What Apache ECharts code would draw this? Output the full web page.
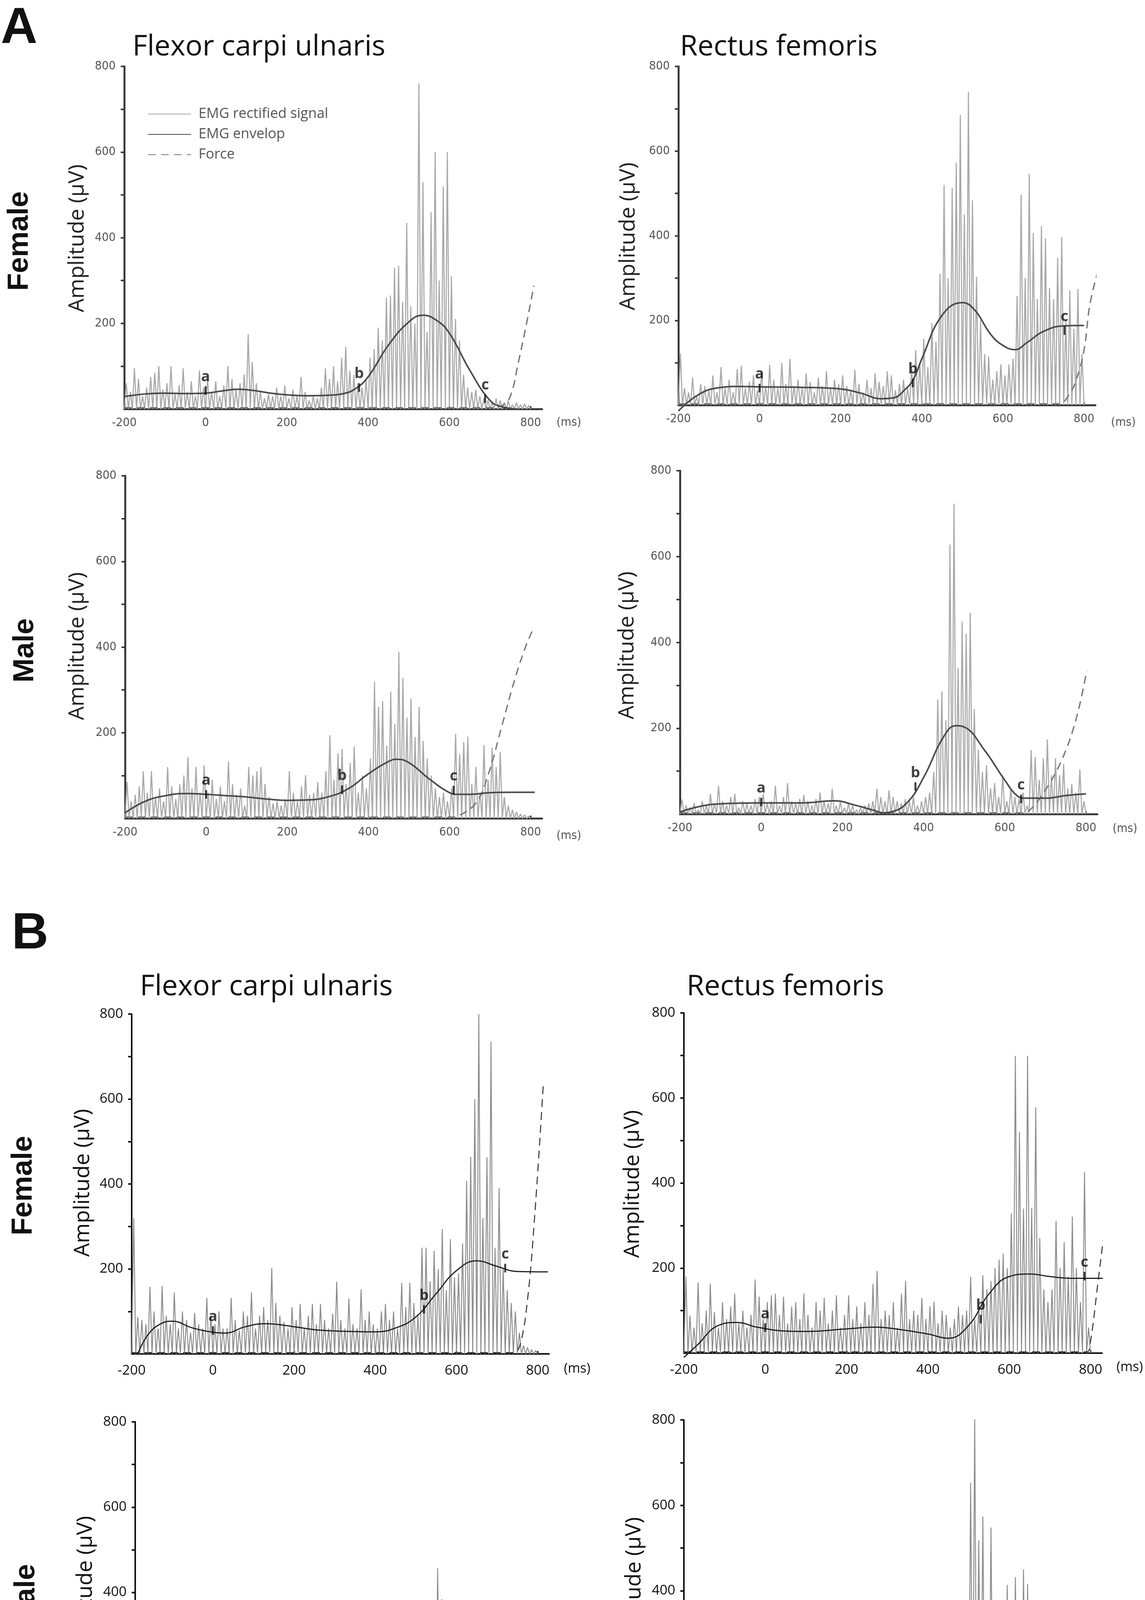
<!DOCTYPE html>
<html>
<head>
<meta charset="utf-8">
<script src="https://cdn.jsdelivr.net/npm/echarts@6.0.0/dist/echarts.min.js"></script>
<style>
  html, body { margin: 0; padding: 0; background: #fff; }
  #chart { width: 2930px; height: 4582px; }
</style>
</head>
<body>
<div id="chart"></div>
<script>
// rectified EMG: one peak every 10 ms, first peak at -195 ms
var T0 = -200, STEP = 10;

var aFcuFemalePeaks = [
  60, 40, 95, 70, 30, 50, 75, 85, 100, 45,
  60, 100, 35, 55, 95, 40, 65, 30, 90, 50,
  70, 40, 65, 30, 55, 100, 70, 45, 60, 80,
  175, 110, 60, 40, 25, 35, 30, 50, 30, 55,
  25, 45, 30, 75, 40, 20, 30, 25, 50, 95,
  70, 100, 65, 120, 145, 90, 80, 60, 50, 70,
  120, 140, 190, 160, 260, 265, 330, 335, 250, 435,
  240, 200, 760, 530, 180, 460, 600, 300, 520, 600,
  310, 210, 160, 80, 50, 40, 45, 30, 25, 20,
  15, 25, 20, 15, 20, 10, 15, 10, 12, 8
];
var aRfFemalePeaks = [
  122, 40, 30, 65, 20, 50, 45, 35, 70, 30,
  90, 40, 60, 30, 85, 93, 40, 55, 70, 35,
  80, 45, 95, 60, 40, 100, 50, 109, 45, 60,
  40, 75, 55, 30, 65, 45, 80, 40, 60, 50,
  70, 45, 35, 83, 50, 30, 60, 40, 75, 55,
  45, 80, 70, 35, 50, 60, 40, 90, 130, 100,
  157, 90, 193, 150, 310, 520, 300, 513, 573, 685,
  450, 740, 484, 303, 200, 120, 115, 60, 80, 96,
  70, 96, 110, 258, 497, 300, 546, 407, 250, 423,
  394, 277, 250, 348, 397, 200, 271, 180, 274, 120
];
var aFcuMalePeaks = [
  85, 40, 55, 75, 110, 60, 110, 50, 70, 40,
  120, 75, 45, 80, 100, 143, 70, 120, 60, 124,
  60, 90, 45, 75, 40, 133, 80, 55, 70, 30,
  120, 100, 110, 120, 80, 50, 35, 40, 30, 45,
  110, 60, 40, 75, 101, 55, 60, 85, 60, 110,
  194, 90, 152, 162, 80, 130, 168, 60, 100, 70,
  140, 319, 261, 274, 170, 296, 220, 389, 328, 235,
  280, 190, 260, 181, 140, 100, 70, 50, 60, 40,
  70, 197, 150, 178, 191, 80, 120, 60, 171, 90,
  165, 120, 155, 50, 30, 20, 15, 10, 8, 5
];
var aRfMalePeaks = [
  34, 20, 15, 25, 10, 30, 20, 47, 25, 66,
  30, 20, 40, 47, 15, 30, 25, 20, 35, 40,
  47, 25, 30, 66, 20, 40, 72, 30, 25, 35,
  45, 30, 20, 35, 50, 30, 25, 59, 20, 30,
  15, 25, 20, 10, 15, 20, 25, 30, 59, 40,
  30, 55, 40, 30, 25, 35, 30, 40, 20, 30,
  40, 50, 98, 267, 286, 219, 628, 723, 340, 449,
  420, 469, 245, 150, 98, 114, 60, 72, 40, 90,
  30, 60, 40, 35, 50, 20, 149, 133, 80, 130,
  174, 90, 130, 91, 117, 60, 70, 50, 104, 30
];
var bFcuFemalePeaks = [
  320, 87, 80, 70, 158, 100, 60, 160, 90, 70,
  145, 60, 100, 80, 50, 97, 70, 60, 132, 90,
  70, 100, 60, 60, 132, 80, 55, 100, 90, 145,
  60, 90, 110, 80, 202, 120, 90, 75, 60, 110,
  80, 118, 60, 90, 118, 70, 118, 80, 60, 95,
  170, 80, 60, 130, 70, 60, 152, 80, 100, 70,
  60, 100, 118, 80, 100, 60, 167, 110, 167, 120,
  90, 250, 250, 171, 243, 200, 294, 150, 270, 180,
  190, 260, 408, 464, 599, 800, 320, 463, 735, 250,
  391, 200, 150, 120, 100, 50, 20, 15, 10, 8
];
var bRfFemalePeaks = [
  180, 88, 60, 166, 70, 100, 163, 97, 60, 120,
  80, 110, 140, 70, 100, 60, 90, 173, 133, 80,
  120, 136, 140, 90, 133, 70, 110, 120, 80, 140,
  90, 60, 120, 100, 130, 70, 100, 136, 60, 90,
  136, 80, 110, 70, 120, 90, 163, 193, 80, 100,
  90, 120, 60, 140, 170, 80, 100, 90, 130, 80,
  110, 121, 70, 100, 90, 60, 80, 110, 90, 100,
  180, 80, 110, 183, 150, 170, 200, 220, 234, 200,
  328, 699, 520, 340, 699, 342, 578, 271, 150, 120,
  150, 311, 200, 261, 180, 321, 200, 120, 426, 60
];
var bFcuMalePeaks = [
  39, 52, 20, 40, 30, 60, 25, 45, 50, 30,
  45, 30, 40, 25, 20, 40, 112, 70, 124, 40,
  122, 50, 30, 40, 20, 30, 101, 95, 60, 84,
  50, 40, 30, 20, 30, 40, 30, 67, 129, 50,
  112, 136, 60, 50, 70, 95, 60, 40, 70, 50,
  60, 126, 70, 60, 50, 70, 40, 50, 60, 70,
  50, 40, 60, 60, 50, 123, 129, 70, 222, 136,
  100, 110, 80, 158, 457, 384, 225, 370, 150, 213,
  315, 163, 202, 136, 120, 150, 257, 110, 235, 212,
  60, 40, 70, 50, 45, 40, 50, 30, 56, 25
];
var bRfMalePeaks = [
  36, 20, 30, 15, 25, 20, 30, 40, 25, 50,
  30, 50, 74, 40, 95, 50, 30, 88, 40, 30,
  50, 30, 40, 20, 35, 40, 25, 50, 30, 40,
  30, 40, 25, 20, 57, 30, 20, 35, 40, 30,
  45, 20, 35, 60, 25, 40, 60, 30, 20, 40,
  25, 30, 45, 88, 40, 30, 50, 25, 40, 35,
  40, 30, 70, 187, 100, 150, 319, 314, 335, 100,
  653, 805, 518, 574, 378, 548, 304, 371, 250, 414,
  300, 432, 280, 450, 416, 315, 250, 200, 205, 180,
  150, 277, 212, 120, 80, 60, 40, 50, 101, 40
];

// EMG envelope, [ms, µV]
var aFcuFemaleEnv = [[-200,29],[-150,35],[-100,37],[-50,36],[0,37],[40,42],[80,46],[120,43],[160,37],[200,33],[250,31],[300,32],[340,36],[370,48],[400,75],[450,149],[500,203],[535,219],[570,206],[600,177],[650,91],[700,20],[730,5],[770,0]];
var aRfFemaleEnv = [[-200,-14],[-150,25],[-100,41],[-50,44],[0,43],[100,42],[200,38],[250,28],[300,15],[330,17],[360,38],[380,62],[400,109],[450,212],[500,242],[530,225],[570,167],[600,141],[630,131],[660,148],[700,174],[750,187],[800,188]];
var aFcuMaleEnv = [[-200,13],[-150,40],[-100,53],[-50,58],[0,56],[50,53],[100,50],[150,45],[200,42],[250,43],[300,50],[350,69],[400,104],[450,133],[470,138],[500,130],[550,92],[600,60],[620,56],[650,56],[700,60],[750,61],[810,61]];
var aRfMaleEnv = [[-200,5],[-150,18],[-100,24],[0,26],[100,26],[180,31],[230,21],[280,8],[300,3],[320,5],[360,27],[400,85],[450,181],[480,206],[500,203],[550,149],[600,79],[630,43],[650,37],[700,37],[750,43],[800,47]];
var bFcuFemaleEnv = [[-185,0],[-160,45],[-130,70],[-100,77],[-50,61],[0,51],[30,49],[80,64],[130,71],[200,64],[250,57],[300,54],[400,52],[450,61],[500,87],[550,142],[600,196],[650,219],[700,206],[750,194],[825,193]];
var bRfFemaleEnv = [[-200,-10],[-168,18],[-115,65],[-70,72],[-20,61],[50,52],[100,51],[200,57],[270,61],[320,57],[400,45],[450,35],[500,65],[550,139],[600,180],[650,186],[700,180],[750,176],[800,176],[830,176]];
var bFcuMaleEnv = [[-185,8],[-150,17],[-100,26],[-50,36],[0,40],[50,40],[100,38],[150,38],[200,42],[250,48],[300,42],[350,33],[380,30],[400,32],[430,49],[450,67],[500,108],[550,129],[570,135],[600,127],[650,98],[700,73],[750,60],[800,56],[815,56]];
var bRfMaleEnv = [[-200,12],[-150,20],[-100,29],[-50,33],[-10,35],[50,29],[100,24],[150,25],[200,29],[230,30],[280,24],[320,17],[350,14],[380,24],[400,45],[430,86],[460,155],[500,237],[530,279],[555,300],[580,293],[620,252],[650,208],[700,153],[730,125],[760,116],[800,115],[830,115]];

// force, [ms, µV]
var aFcuFemaleForce = [[-200,3],[700,3],[730,8],[750,30],[770,110],[790,200],[808,288]];
var aRfFemaleForce = [[-200,3],[740,3],[760,20],[780,57],[800,130],[816,245],[850,370],[880,484]];
var aFcuMaleForce = [[-200,3],[610,3],[621,5],[666,37],[697,107],[729,216],[761,325],[788,402],[808,446]];
var aRfMaleForce = [[-200,3],[640,3],[660,8],[698,53],[739,123],[775,219],[802,334]];
var bFcuFemaleForce = [[-200,3],[740,3],[756,19],[775,128],[793,330],[814,637]];
var bRfFemaleForce = [[-200,3],[790,3],[800,30],[818,166],[840,335],[855,440]];
var bFcuMaleForce = [[-200,3],[700,3],[730,60],[766,170],[793,274],[820,370]];
var bRfMaleForce = [[-200,3],[700,5],[729,12],[783,23],[810,45],[837,98],[856,154]];

// a / b / c markers on the envelope: [letter, ms, µV]
var aFcuFemaleMarks = [['a',0,43],['b',378,50],['c',688,24]];
var aRfFemaleMarks = [['a',0,40],['b',378,52],['c',752,176]];
var aFcuMaleMarks = [['a',0,56],['b',335,67],['c',610,66]];
var aRfMaleMarks = [['a',0,28],['b',380,64],['c',640,35]];
var bFcuFemaleMarks = [['a',0,55],['b',520,105],['c',720,202]];
var bRfFemaleMarks = [['a',0,60],['b',530,80],['c',785,181]];
var bFcuMaleMarks = [['a',0,41],['b',435,51],['c',690,78]];
var bRfMaleMarks = [['a',0,38],['b',405,59],['c',735,120]];

var xTicks = [-200, 0, 200, 400, 600, 800];
var yLabels = [200, 400, 600, 800];
var yTicks = [100, 200, 300, 400, 500, 600, 700, 800];

var panels = [
  { peaks: aFcuFemalePeaks, env: aFcuFemaleEnv, force: aFcuFemaleForce, marks: aFcuFemaleMarks, grid: [318, 170, 1069, 877], b: false },
  { peaks: aRfFemalePeaks, env: aRfFemaleEnv, force: aRfFemaleForce, marks: aRfFemaleMarks, grid: [1736, 170, 1067, 867], b: false },
  { peaks: aFcuMalePeaks, env: aFcuMaleEnv, force: aFcuMaleForce, marks: aFcuMaleMarks, grid: [320, 1218, 1067, 877], b: false },
  { peaks: aRfMalePeaks, env: aRfMaleEnv, force: aRfMaleForce, marks: aRfMaleMarks, grid: [1740, 1205, 1068, 879], b: false },
  { peaks: bFcuFemalePeaks, env: bFcuFemaleEnv, force: bFcuFemaleForce, marks: bFcuFemaleMarks, grid: [337, 2596, 1068, 870], b: true },
  { peaks: bRfFemalePeaks, env: bRfFemaleEnv, force: bRfFemaleForce, marks: bRfFemaleMarks, grid: [1750, 2593, 1070, 871], b: true },
  { peaks: bFcuMalePeaks, env: bFcuMaleEnv, force: bFcuMaleForce, marks: bFcuMaleMarks, grid: [346, 3640, 1068, 873], b: true },
  { peaks: bRfMalePeaks, env: bRfMaleEnv, force: bRfMaleForce, marks: bRfMaleMarks, grid: [1750, 3635, 1070, 875], b: true }
];

var grids = [], xAxes = [], yAxes = [], series = [];

panels.forEach(function (p, i) {
  var axisCol = p.b ? '#111' : '#3a3a3a';
  var labCol = p.b ? '#111' : '#555';
  var labFont = p.b ? "'Open Sans', sans-serif" : "'DejaVu Sans Condensed', sans-serif";
  grids.push({ left: p.grid[0], top: p.grid[1], width: p.grid[2], height: p.grid[3], containLabel: false });
  xAxes.push({
    type: 'value', gridIndex: i, min: -200, max: 828,
    axisLine: { onZero: false, lineStyle: { color: axisCol, width: p.b ? 4 : 5 } },
    axisTick: { show: true, inside: true, length: 7, customValues: xTicks, lineStyle: { color: axisCol, width: 4 } },
    axisLabel: { customValues: xTicks, margin: p.b ? 26 : 20, fontSize: p.b ? 35 : 31, color: labCol, fontFamily: labFont },
    splitLine: { show: false }
  });
  yAxes.push({
    type: 'value', gridIndex: i, min: 0, max: 800,
    axisLine: { show: true, onZero: false, lineStyle: { color: axisCol, width: p.b ? 4 : 5 } },
    axisTick: { show: true, length: 9, customValues: yTicks, lineStyle: { color: axisCol, width: 4 } },
    axisLabel: { customValues: yLabels, margin: 22, fontSize: p.b ? 35 : 31, color: labCol, fontFamily: labFont },
    splitLine: { show: false }
  });

  var sig = [];
  p.peaks.forEach(function (v, k) {
    sig.push([T0 + k * STEP, 0]);
    sig.push([T0 + k * STEP + STEP / 2, v]);
  });
  sig.push([T0 + p.peaks.length * STEP, 0]);

  series.push({
    name: 'EMG rectified signal', type: 'line', xAxisIndex: i, yAxisIndex: i,
    data: sig, symbol: 'none', z: 1, animation: false,
    lineStyle: { color: p.b ? '#8c8c8c' : '#a9a9a9', width: p.b ? 2.4 : 2.8 },
    itemStyle: { color: p.b ? '#8c8c8c' : '#a9a9a9' }
  });
  series.push({
    name: 'Force', type: 'line', xAxisIndex: i, yAxisIndex: i,
    data: p.force, symbol: 'none', smooth: 0.4, clip: false, z: 2, animation: false,
    lineStyle: { color: p.b ? '#333' : '#7a7a7a', width: p.b ? 2.6 : 3.5, type: [20, 13] },
    itemStyle: { color: p.b ? '#333' : '#7a7a7a' }
  });
  series.push({
    name: 'EMG envelop', type: 'line', xAxisIndex: i, yAxisIndex: i,
    data: p.env, symbol: 'none', smooth: 0.45, clip: false, z: 3, animation: false,
    lineStyle: { color: p.b ? '#1e1e1e' : '#4a4a4a', width: p.b ? 3 : 4 },
    itemStyle: { color: p.b ? '#1e1e1e' : '#4a4a4a' }
  });
  series.push({
    name: 'marks' + i, type: 'scatter', xAxisIndex: i, yAxisIndex: i,
    data: p.marks.map(function (m) { return { name: m[0], value: [m[1], m[2]] }; }),
    symbol: 'rect', symbolSize: [5, 22], z: 4, animation: false,
    itemStyle: { color: '#111' },
    label: { show: true, position: 'top', distance: 5, formatter: '{b}', fontSize: 38, fontWeight: 'bold', color: '#111', fontFamily: "'Open Sans', sans-serif" }
  });
});

function txt(s, x, y, size, opts) {
  opts = opts || {};
  return {
    type: 'text', x: x, y: y, rotation: opts.rot || 0, z: 10,
    style: {
      text: s, fill: opts.color || '#111', align: opts.align || 'left', verticalAlign: 'middle',
      font: (opts.bold ? 'bold ' : '') + size + 'px ' + (opts.family || "'Open Sans', sans-serif")
    }
  };
}
var R = Math.PI / 2;
var boldFam = "'Liberation Sans', Arial, sans-serif";
var condFam = "'DejaVu Sans Condensed', sans-serif";
var graphics = [
  txt('A', 2, 74, 130, { bold: true, family: boldFam }),
  txt('B', 30, 2392, 130, { bold: true, family: boldFam }),
  txt('Flexor carpi ulnaris', 339, 121, 73),
  txt('Rectus femoris', 1740, 121, 73),
  txt('Flexor carpi ulnaris', 358, 2527, 73),
  txt('Rectus femoris', 1757, 2527, 73),
  txt('Female', 51, 617, 74, { rot: R, align: 'center', bold: true, family: boldFam }),
  txt('Male', 65, 1665, 74, { rot: R, align: 'center', bold: true, family: boldFam }),
  txt('Female', 61, 3035, 74, { rot: R, align: 'center', bold: true, family: boldFam }),
  txt('Male', 68, 4086, 74, { rot: R, align: 'center', bold: true, family: boldFam }),
  txt('Amplitude (µV)', 198, 610, 55, { rot: R, align: 'center', color: '#222' }),
  txt('Amplitude (µV)', 1608, 605, 55, { rot: R, align: 'center', color: '#222' }),
  txt('Amplitude (µV)', 198, 1654, 55, { rot: R, align: 'center', color: '#222' }),
  txt('Amplitude (µV)', 1605, 1652, 55, { rot: R, align: 'center', color: '#222' }),
  txt('Amplitude (µV)', 212, 3028, 55, { rot: R, align: 'center' }),
  txt('Amplitude (µV)', 1619, 3031, 55, { rot: R, align: 'center' }),
  txt('Amplitude (µV)', 219, 4070, 55, { rot: R, align: 'center' }),
  txt('Amplitude (µV)', 1623, 4073, 55, { rot: R, align: 'center' }),
  txt('(ms)', 1424, 1082, 31, { color: '#555', family: condFam }),
  txt('(ms)', 2843, 1082, 31, { color: '#555', family: condFam }),
  txt('(ms)', 1424, 2140, 31, { color: '#555', family: condFam }),
  txt('(ms)', 2847, 2122, 31, { color: '#555', family: condFam }),
  txt('(ms)', 1443, 3504, 34),
  txt('(ms)', 2857, 3500, 34),
  txt('(ms)', 1443, 4555, 34),
  txt('(ms)', 2857, 4548, 34)
];

var chart = echarts.init(document.getElementById('chart'), null, { renderer: 'canvas' });
chart.setOption({
  backgroundColor: '#fff',
  animation: false,
  grid: grids,
  xAxis: xAxes,
  yAxis: yAxes,
  legend: {
    data: ['EMG rectified signal', 'EMG envelop', 'Force'],
    orient: 'vertical', left: 378, top: 274, padding: 0,
    itemWidth: 110, itemHeight: 28, itemGap: 16,
    itemStyle: { opacity: 0 },
    textStyle: { fontSize: 36, color: '#555', fontFamily: "'Open Sans', sans-serif", padding: [0, 0, 0, 14] }
  },
  graphic: graphics,
  series: series
});
</script>
</body>
</html>
